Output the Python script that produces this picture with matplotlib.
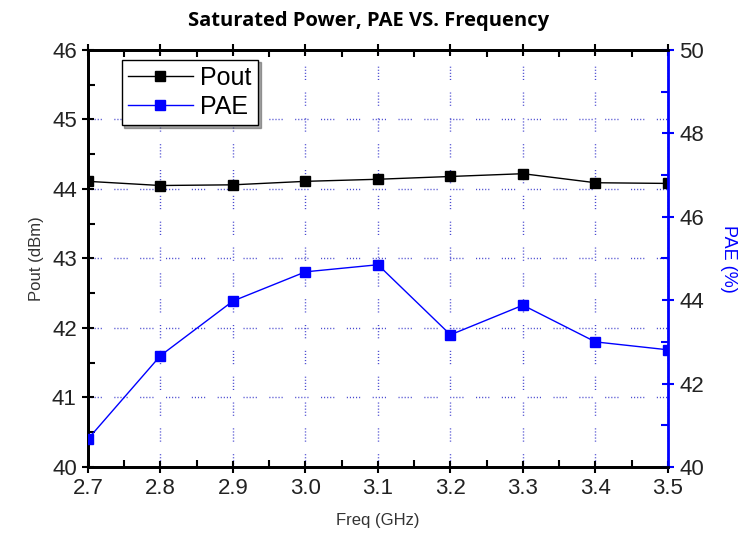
import matplotlib
matplotlib.use("Agg")
import matplotlib.pyplot as plt
from matplotlib.ticker import MultipleLocator, FormatStrFormatter

freq = [2.7, 2.8, 2.9, 3.0, 3.1, 3.2, 3.3, 3.4, 3.5]
pout = [44.11, 44.05, 44.06, 44.11, 44.14, 44.18, 44.22, 44.09, 44.08]
pae = [40.67, 42.67, 43.98, 44.68, 44.85, 43.17, 43.88, 43.00, 42.81]

title = "Saturated Power, PAE VS. Frequency"
xlabel = "Freq (GHz)"
ylabel_left = "Pout (dBm)"
ylabel_right = "PAE (%)"

plt.rcParams['font.family'] = ['Liberation Sans', 'DejaVu Sans']
blue = '#0000ff'
gridc = '#4a4ad0'

fig = plt.figure(figsize=(7.38, 5.41), dpi=100)
ax = fig.add_axes([0.1192, 0.1368, 0.7859, 0.7708])
ax2 = ax.twinx()

ax.set_xlim(2.7, 3.5)
ax.set_ylim(40, 46)
ax2.set_ylim(40, 50)

ax.xaxis.set_major_locator(MultipleLocator(0.1))
ax.xaxis.set_minor_locator(MultipleLocator(0.05))
ax.yaxis.set_major_locator(MultipleLocator(1))
ax.yaxis.set_minor_locator(MultipleLocator(0.5))
ax2.yaxis.set_major_locator(MultipleLocator(2))
ax2.yaxis.set_minor_locator(MultipleLocator(1))
ax.xaxis.set_major_formatter(FormatStrFormatter('%.1f'))

grid_dash = (0, (0.8, 1.4, 0.8, 1.4, 0.8, 1.4, 0.8, 1.4, 0.8, 9.0))
ax.grid(True, which='major', color=gridc, linestyle=grid_dash, linewidth=1.0)

l1, = ax.plot(freq, pout, color='black', marker='s', markersize=6.5, linewidth=1.0,
              label='Pout', zorder=3)
l2, = ax2.plot(freq, pae, color=blue, marker='s', markersize=6.5, linewidth=1.0,
               label='PAE', zorder=3)

for a in (ax, ax2):
    a.tick_params(which='major', direction='inout', length=9, width=1.5, labelsize=16,
                  labelcolor='#222222')
    a.tick_params(which='minor', direction='in', length=5, width=1.5)
ax.tick_params(top=True, which='both')
ax2.tick_params(axis='y', which='both', color=blue)

for s in ('left', 'bottom', 'top'):
    ax.spines[s].set_linewidth(2)
    ax2.spines[s].set_linewidth(2)
ax2.spines['right'].set_color(blue)
ax2.spines['right'].set_linewidth(2)

ax.set_xlabel(xlabel, fontsize=12, color='#333333', labelpad=10)
ax.set_ylabel(ylabel_left, fontsize=12, color='#333333', labelpad=6)
ax2.set_ylabel(ylabel_right, fontsize=13, color=blue, rotation=-90, labelpad=24)

fig.suptitle(title, fontsize=14.5, fontweight='bold', family=['Open Sans', 'DejaVu Sans'],
             y=0.98)

leg = ax.legend([l1, l2], ['Pout', 'PAE'], loc='upper left', bbox_to_anchor=(0.045, 0.995),
                fontsize=18, frameon=True, fancybox=False, shadow=True,
                handlelength=2.6, handletextpad=0.3, borderpad=0.25, labelspacing=0.2,
                borderaxespad=0.3)
leg.get_frame().set_edgecolor('black')
leg.get_frame().set_linewidth(1.0)
leg.set_zorder(10)

fig.savefig('out.png', dpi=100)
